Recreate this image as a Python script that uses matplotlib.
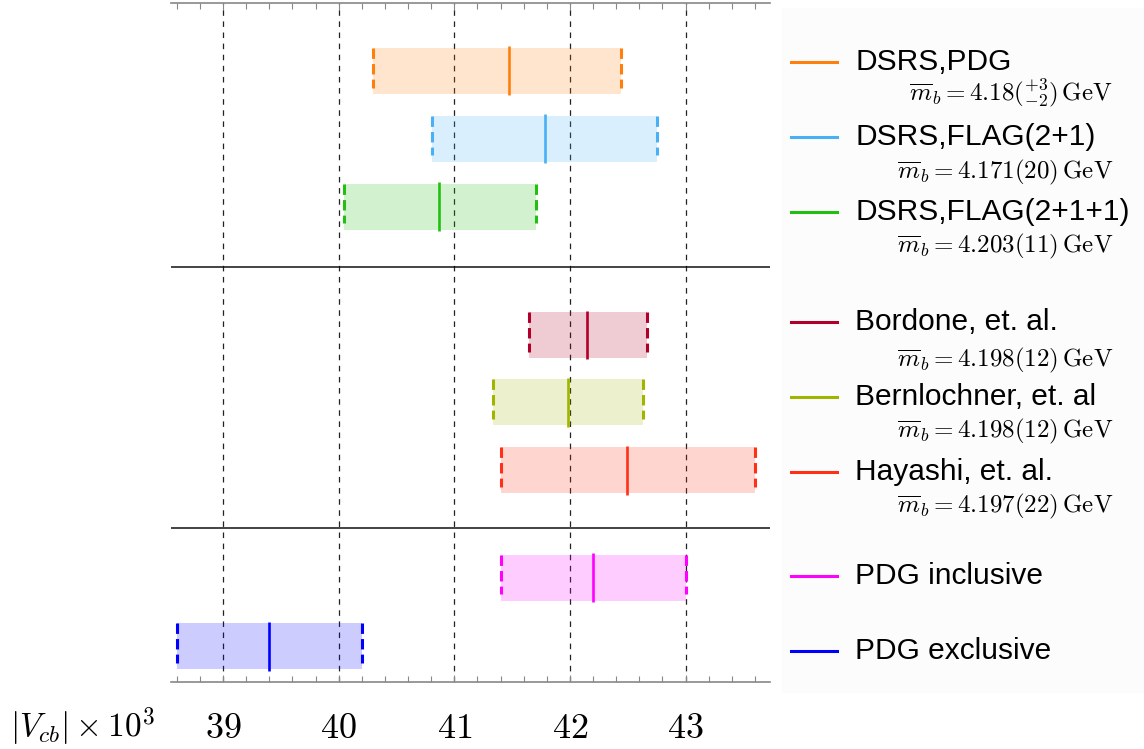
import matplotlib.pyplot as plt
from matplotlib.lines import Line2D
from matplotlib.patches import Rectangle

plt.rcParams['mathtext.fontset'] = 'cm'
plt.rcParams['lines.scale_dashes'] = False

# |Vcb| x 10^3 : central value, lower and upper edge of the band
labels = ['DSRS,PDG', 'DSRS,FLAG(2+1)', 'DSRS,FLAG(2+1+1)',
          'Bordone, et. al.', 'Bernlochner, et. al', 'Hayashi, et. al.',
          'PDG inclusive', 'PDG exclusive']
central = [41.47, 41.78, 40.87, 42.15, 41.98, 42.49, 42.20, 39.40]
lower = [40.30, 40.81, 40.05, 41.645, 41.335, 41.40, 41.40, 38.60]
upper = [42.44, 42.75, 41.71, 42.67, 42.63, 43.60, 43.00, 40.20]
mass_notes = [r'$\overline{m}_b = 4.18({}^{+3}_{-2})\,\mathrm{GeV}$',
              r'$\overline{m}_b = 4.171(20)\,\mathrm{GeV}$',
              r'$\overline{m}_b = 4.203(11)\,\mathrm{GeV}$',
              r'$\overline{m}_b = 4.198(12)\,\mathrm{GeV}$',
              r'$\overline{m}_b = 4.198(12)\,\mathrm{GeV}$',
              r'$\overline{m}_b = 4.197(22)\,\mathrm{GeV}$',
              None, None]
xticks = [39, 40, 41, 42, 43]

colors = ['#ff7f0e', '#4ab0f5', '#22bf12', '#b0002a',
          '#a0b400', '#ff3018', '#ff00ff', '#0000ff']

rows = [1.0, 2.0, 3.0, 4.89, 5.88, 6.88, 8.46, 9.47]
half = 0.338
W, H = 1144, 749

fig = plt.figure(figsize=(W / 100, H / 100), dpi=100)
fig.add_artist(Rectangle((782 / W, 1 - 692 / H), (W - 782) / W, 684 / H,
                         transform=fig.transFigure, color='#fcfcfc', zorder=0))
ax = fig.add_axes([171 / W, 1 - 682.3 / H, 599 / W, 679.6 / H])

for x in xticks:
    ax.axvline(x, color='#222222', lw=0.9, dashes=(4, 4), zorder=1)

for y, c, lo, hi, col in zip(rows, central, lower, upper, colors):
    ax.fill_betweenx([y - half, y + half], lo, hi, color=col, alpha=0.2,
                     lw=0, zorder=2)
    ax.vlines([lo, hi], y - half, y + half - 0.09, colors=col, lw=2.2,
              linestyles=[(0, (7.5, 3.7))], zorder=3)
    ax.vlines(c, y - half - 0.02, y + half + 0.02, colors=col, lw=1.9,
              zorder=3)

for ys in [3.889, 7.725]:
    ax.axhline(ys, color='#111111', lw=1.1, zorder=4)

ax.set_xlim(38.55, 43.73)
ax.set_ylim(10, 0)
ax.set_xticks(xticks)
ax.set_xticks([v / 5 for v in range(193, 219)], minor=True)
ax.set_xticklabels(['$%d$' % t for t in xticks], fontsize=26)
ax.set_yticks([])
ax.tick_params(axis='x', which='both', direction='in', top=True,
               color='#888888', width=0.8)
ax.tick_params(axis='x', which='major', length=5, pad=21)
ax.tick_params(axis='x', which='minor', length=4)
for s in ['left', 'right']:
    ax.spines[s].set_visible(False)
for s in ['top', 'bottom']:
    ax.spines[s].set_color('#888888')
    ax.spines[s].set_linewidth(1.2)

fig.text(10 / W, 1 - 727 / H, r'$|V_{cb}|\times 10^3$', fontsize=24,
         ha='left', va='center')

# legend drawn by hand
label_y = [62, 136.7, 211.7, 322, 396.7, 471.7, 576, 650.7]
note_y = [93, 172, 246.7, 360, 431.7, 506.7]
for i, (lab, col) in enumerate(zip(labels, colors)):
    py = 1 - label_y[i] / H
    fig.add_artist(Line2D([791 / W, 837 / W], [py, py], color=col, lw=2.2,
                          transform=fig.transFigure))
    fig.text(855 / W, py, lab, fontsize=21.5, family='Liberation Sans',
             ha='left', va='center')
    if mass_notes[i] is not None:
        fig.text(1113 / W, 1 - note_y[i] / H, mass_notes[i], fontsize=18,
                 ha='right', va='center')

fig.savefig('out.png', dpi=100)
